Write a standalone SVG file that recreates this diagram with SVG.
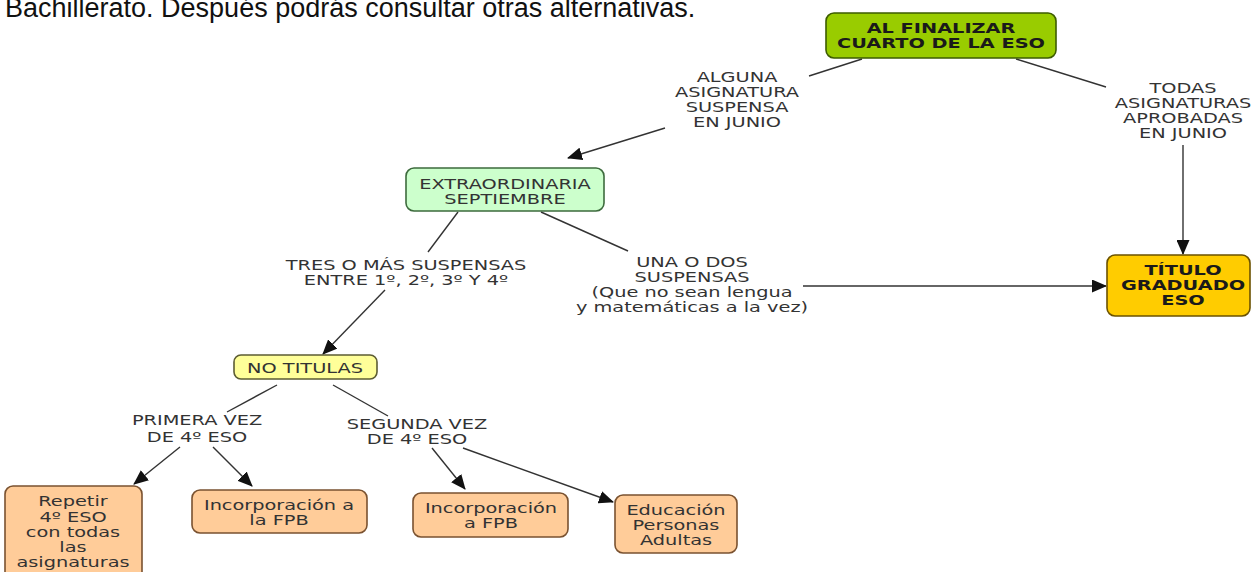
<svg xmlns="http://www.w3.org/2000/svg" width="1255" height="572" viewBox="0 0 1255 572">
<defs>
<marker id="ah" markerWidth="15" markerHeight="13" refX="14" refY="6.5" orient="auto" markerUnits="userSpaceOnUse">
<path d="M0,0 L15,6.5 L0,13 z" fill="#111"/>
</marker>
<style>
.page{font-family:"Liberation Sans",Arial,sans-serif;font-size:27px;fill:#111}
.t{font-family:"DejaVu Sans",Verdana,sans-serif;font-size:14px;fill:#333;text-anchor:middle}
.tb{font-family:"DejaVu Sans",Verdana,sans-serif;font-size:14px;font-weight:bold;fill:#1a1a1a;text-anchor:middle}
.n{stroke-width:1.6}
.c line{stroke:#333;stroke-width:1.4;fill:none}
.c .a{marker-end:url(#ah)}
</style>
</defs>
<rect width="1255" height="572" fill="#fff"/>
<text class="page" x="5" y="17">Bachillerato. Después podrás consultar otras alternativas.</text>

<g id="connectors" class="c">
<line x1="862" y1="59" x2="809" y2="76"/>
<line class="a" x1="665" y1="128" x2="568" y2="158"/>
<line x1="1016" y1="59" x2="1106" y2="87"/>
<line class="a" x1="1183" y1="145" x2="1183" y2="254"/>
<line x1="458" y1="212" x2="428" y2="252"/>
<line x1="541" y1="212" x2="628" y2="251"/>
<line class="a" x1="385" y1="290" x2="323" y2="354"/>
<line class="a" x1="803" y1="286" x2="1106" y2="286"/>
<line x1="277" y1="385" x2="227" y2="412"/>
<line x1="333" y1="385" x2="388" y2="416"/>
<line class="a" x1="180" y1="447" x2="134" y2="484"/>
<line class="a" x1="213" y1="447" x2="252" y2="486"/>
<line class="a" x1="432" y1="448" x2="465" y2="489"/>
<line class="a" x1="463" y1="448" x2="613" y2="502"/>
</g>

<g id="lbl-alguna">
<text class="t" transform="translate(737 0) scale(1.38 1)"><tspan x="0" y="82">ALGUNA</tspan><tspan x="0" y="97">ASIGNATURA</tspan><tspan x="0" y="112">SUSPENSA</tspan><tspan x="0" y="127">EN JUNIO</tspan></text>
</g>
<g id="lbl-todas">
<text class="t" transform="translate(1183 0) scale(1.38 1)"><tspan x="0" y="93">TODAS</tspan><tspan x="0" y="108">ASIGNATURAS</tspan><tspan x="0" y="123">APROBADAS</tspan><tspan x="0" y="138">EN JUNIO</tspan></text>
</g>
<g id="lbl-tres">
<text class="t" transform="translate(406 0) scale(1.38 1)"><tspan x="0" y="270">TRES O MÁS SUSPENSAS</tspan><tspan x="0" y="285">ENTRE 1º, 2º, 3º Y 4º</tspan></text>
</g>
<g id="lbl-una">
<text class="t" transform="translate(692 0) scale(1.38 1)"><tspan x="0" y="267">UNA O DOS</tspan><tspan x="0" y="282">SUSPENSAS</tspan><tspan x="0" y="297">(Que no sean lengua</tspan><tspan x="0" y="312">y matemáticas a la vez)</tspan></text>
</g>
<g id="lbl-primera">
<text class="t" transform="translate(197 0) scale(1.38 1)"><tspan x="0" y="425">PRIMERA VEZ</tspan><tspan x="0" y="442">DE 4º ESO</tspan></text>
</g>
<g id="lbl-segunda">
<text class="t" transform="translate(417 0) scale(1.38 1)"><tspan x="0" y="429">SEGUNDA VEZ</tspan><tspan x="0" y="444">DE 4º ESO</tspan></text>
</g>

<g id="n-final">
<rect class="n" x="826" y="13" width="230" height="45" rx="8" fill="#99cc00" stroke="#3d5c00"/>
<text class="tb" transform="translate(941 0) scale(1.38 1)"><tspan x="0" y="33">AL FINALIZAR</tspan><tspan x="0" y="48">CUARTO DE LA ESO</tspan></text>
</g>
<g id="n-extra">
<rect class="n" x="406" y="168" width="198" height="43" rx="8" fill="#ccffcc" stroke="#3d6b3d"/>
<text class="t" fill="#222" transform="translate(505 0) scale(1.38 1)"><tspan x="0" y="189">EXTRAORDINARIA</tspan><tspan x="0" y="204">SEPTIEMBRE</tspan></text>
</g>
<g id="n-titulo">
<rect class="n" x="1107" y="255" width="143" height="61" rx="8" fill="#ffcc00" stroke="#6b5200"/>
<text class="tb" transform="translate(1183 0) scale(1.38 1)"><tspan x="0" y="275">TÍTULO</tspan><tspan x="0" y="290">GRADUADO</tspan><tspan x="0" y="305">ESO</tspan></text>
</g>
<g id="n-notitulas">
<rect class="n" x="234" y="355" width="143" height="24" rx="7" fill="#ffff99" stroke="#5c5c33"/>
<text class="t" fill="#222" transform="translate(305 0) scale(1.38 1)"><tspan x="0" y="373">NO TITULAS</tspan></text>
</g>
<g id="n-repetir">
<rect class="n" x="5" y="486" width="137" height="100" rx="8" fill="#ffcc99" stroke="#7a5230"/>
<text class="t" fill="#222" transform="translate(73 0) scale(1.38 1)"><tspan x="0" y="506">Repetir</tspan><tspan x="0" y="522">4º ESO</tspan><tspan x="0" y="537">con todas</tspan><tspan x="0" y="552">las</tspan><tspan x="0" y="567">asignaturas</tspan></text>
</g>
<g id="n-fpb1">
<rect class="n" x="192" y="490" width="175" height="43" rx="8" fill="#ffcc99" stroke="#7a5230"/>
<text class="t" fill="#222" transform="translate(279 0) scale(1.38 1)"><tspan x="0" y="510">Incorporación a</tspan><tspan x="0" y="525">la FPB</tspan></text>
</g>
<g id="n-fpb2">
<rect class="n" x="413" y="493" width="155" height="44" rx="8" fill="#ffcc99" stroke="#7a5230"/>
<text class="t" fill="#222" transform="translate(491 0) scale(1.38 1)"><tspan x="0" y="513">Incorporación</tspan><tspan x="0" y="528">a FPB</tspan></text>
</g>
<g id="n-adultos">
<rect class="n" x="615" y="495" width="122" height="58" rx="8" fill="#ffcc99" stroke="#7a5230"/>
<text class="t" fill="#222" transform="translate(676 0) scale(1.38 1)"><tspan x="0" y="515">Educación</tspan><tspan x="0" y="530">Personas</tspan><tspan x="0" y="545">Adultas</tspan></text>
</g>
</svg>
